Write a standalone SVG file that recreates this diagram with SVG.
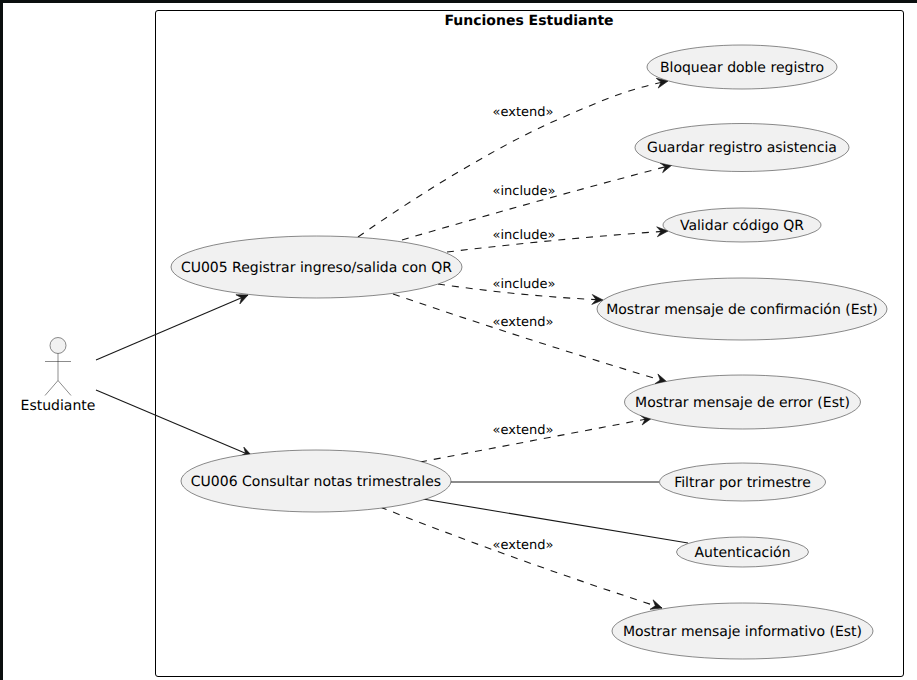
<svg xmlns="http://www.w3.org/2000/svg" width="917" height="680" viewBox="0 0 917 680">
<style>
text{font-family:"DejaVu Sans",sans-serif;font-size:14px;fill:#000;text-rendering:geometricPrecision}
.uc ellipse{fill:#f1f1f1;stroke:#181818;stroke-width:.5}
.lbl{font-size:13px}
.c path{fill:none;stroke:#181818;stroke-width:1.1}
.c path.d{stroke-dasharray:7 7}
.c path.a{marker-end:url(#arr)}
</style>
<defs><marker id="arr" markerUnits="userSpaceOnUse" markerWidth="16" markerHeight="14" refX="12" refY="6" orient="auto"><path d="M1 1L12 6L1 11L5 6Z" fill="#181818" stroke="#181818" stroke-width=".6"/></marker></defs>
<rect width="917" height="680" fill="#fff"/>
<rect x="0" y="0" width="917" height="3" fill="#0a0f0f"/>
<rect x="0" y="0" width="3" height="680" fill="#0a0f0f"/>
<g id="boundary"><rect x="155.500" y="10.500" width="748" height="666" rx="2.500" fill="none" stroke="#000" stroke-width="1"/>
<text x="529" y="25" text-anchor="middle" style="font-weight:bold">Funciones Estudiante</text></g>
<g id="actor" fill="none" stroke="#181818" stroke-width=".5"><circle cx="58" cy="345.500" r="8" fill="#f1f1f1"/><path d="M58 353.500V380.500M45 361.500H71M58 380.500L45 395.500M58 380.500L71 395.500"/><text x="58" y="410" text-anchor="middle" stroke="none">Estudiante</text></g>
<g id="connectors" class="c">
<path class="a" d="M96 360L248 295"/>
<path class="a" d="M96 390L252 456"/>
<path class="d a" d="M358 237C385 218 413 200 440 183C478 160 515 139 550 123C575 112 600 101 623 93C638 88 653 84 668 81"/>
<path class="d a" d="M402 240Q535 201 672 165"/>
<path class="d a" d="M447 252Q555 239 668 231"/>
<path class="d a" d="M438 284Q520 296 603 300"/>
<path class="d a" d="M393 294Q530 341 667 382"/>
<path class="d a" d="M420 462L652 418"/>
<path d="M451 482H659"/>
<path d="M423 499L688 543"/>
<path class="d a" d="M380 507Q520 562 662 608"/>
</g>
<g><text class="lbl" x="492.500" y="116">«extend»</text><text class="lbl" x="492.500" y="195">«include»</text><text class="lbl" x="492.500" y="239">«include»</text><text class="lbl" x="492.500" y="288">«include»</text><text class="lbl" x="492.500" y="326">«extend»</text><text class="lbl" x="492.500" y="434">«extend»</text><text class="lbl" x="492.500" y="549">«extend»</text></g>
<g id="cu005" class="uc"><ellipse cx="316.500" cy="267" rx="145.500" ry="31"/><text x="316.500" y="272" text-anchor="middle">CU005 Registrar ingreso/salida con QR</text></g>
<g id="cu006" class="uc"><ellipse cx="316" cy="481" rx="135" ry="31"/><text x="316" y="486" text-anchor="middle">CU006 Consultar notas trimestrales</text></g>
<g id="bloquear" class="uc"><ellipse cx="742" cy="67" rx="95" ry="22"/><text x="742" y="72" text-anchor="middle">Bloquear doble registro</text></g>
<g id="guardar" class="uc"><ellipse cx="742" cy="147.500" rx="107" ry="24"/><text x="742" y="152" text-anchor="middle">Guardar registro asistencia</text></g>
<g id="validar" class="uc"><ellipse cx="742" cy="225" rx="79" ry="17"/><text x="742" y="230" text-anchor="middle">Validar código QR</text></g>
<g id="confirmacion" class="uc"><ellipse cx="742" cy="309" rx="145" ry="31"/><text x="742" y="314" text-anchor="middle">Mostrar mensaje de confirmación (Est)</text></g>
<g id="error" class="uc"><ellipse cx="742.500" cy="402" rx="118" ry="27"/><text x="742.500" y="407" text-anchor="middle">Mostrar mensaje de error (Est)</text></g>
<g id="filtrar" class="uc"><ellipse cx="742.500" cy="482" rx="83" ry="19"/><text x="742.500" y="487" text-anchor="middle">Filtrar por trimestre</text></g>
<g id="autenticacion" class="uc"><ellipse cx="742.500" cy="552" rx="66" ry="15"/><text x="742.500" y="557" text-anchor="middle">Autenticación</text></g>
<g id="informativo" class="uc"><ellipse cx="742.500" cy="631" rx="130.500" ry="28"/><text x="742.500" y="636" text-anchor="middle">Mostrar mensaje informativo (Est)</text></g>
</svg>
